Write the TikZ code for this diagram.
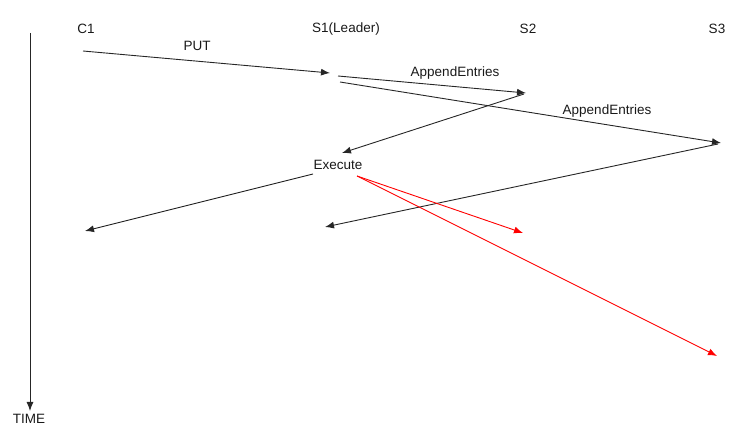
\documentclass[tikz,border=0pt]{standalone}
\usepackage{fontspec}
\setmainfont{Liberation Sans}
\usetikzlibrary{arrows.meta}
\begin{document}
\begin{tikzpicture}[x=1pt,y=-1pt,
  lbl/.style={inner sep=0pt,font=\fontsize{13.5}{15}\selectfont,text=black!90},
  msg/.style={draw=black!85,line width=0.9pt,-{Latex[length=9pt,width=7pt]}},
  redmsg/.style={draw=red,line width=0.9pt,-{Latex[length=9pt,width=7pt]}}]
\useasboundingbox (0,0) rectangle (748,438);
% labels
\node[lbl] (c1) at (86,29) {C1};
\node[lbl] (s1) at (346,29) {S1(Leader)};
\node[lbl] (s2) at (528,29) {S2};
\node[lbl] (s3) at (717,29) {S3};
\node[lbl] (put) at (197,46) {PUT};
\node[lbl] (ae1) at (455,73) {AppendEntries};
\node[lbl] (ae2) at (607,111) {AppendEntries};
\node[lbl] (exec) at (338,165) {Execute};
\node[lbl] (time) at (29,419) {TIME};
% points
\coordinate (tA) at (30,33);
\coordinate (tB) at (30,411);
\coordinate (p1) at (83,51);
\coordinate (p2) at (330,73);
\coordinate (p3) at (338,76);
\coordinate (p4) at (526,93);
\coordinate (p5) at (340,82);
\coordinate (p6) at (721,143);
\coordinate (p7) at (524,94);
\coordinate (p8) at (342,153);
\coordinate (p9) at (313,174);
\coordinate (p10) at (85,231);
\coordinate (p11) at (718,144);
\coordinate (p12) at (325,227);
\coordinate (p13) at (357,176);
\coordinate (p14) at (523,233);
\coordinate (p15) at (717,356);
% connectors
\draw[msg] (tA) -- (tB);
\draw[msg] (p1) -- (p2);
\draw[msg] (p3) -- (p4);
\draw[msg] (p5) -- (p6);
\draw[msg] (p7) -- (p8);
\draw[msg] (p9) -- (p10);
\draw[msg] (p11) -- (p12);
\draw[redmsg] (p13) -- (p14);
\draw[redmsg] (p13) -- (p15);
\end{tikzpicture}
\end{document}
